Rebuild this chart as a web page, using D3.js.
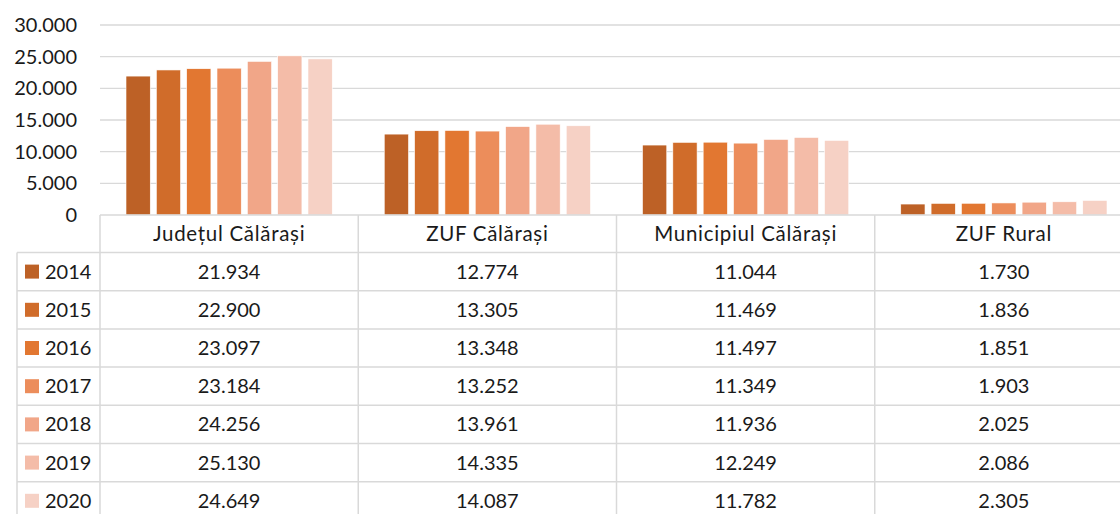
<!DOCTYPE html>
<html>
<head>
<meta charset="utf-8">
<script src="https://cdn.jsdelivr.net/npm/d3@7"></script>
<style>
  body { margin: 0; background: white; }
  svg { display: block; font-family: Lato, 'Open Sans', sans-serif; }
</style>
</head>
<body>
<svg id="chart" width="1120" height="514"></svg>
<script>
const categories = ['Județul Călărași', 'ZUF Călărași', 'Municipiul Călărași', 'ZUF Rural'],
    years = ['2014', '2015', '2016', '2017', '2018', '2019', '2020'],
    v2014 = [21934, 12774, 11044, 1730],
    v2015 = [22900, 13305, 11469, 1836],
    v2016 = [23097, 13348, 11497, 1851],
    v2017 = [23184, 13252, 11349, 1903],
    v2018 = [24256, 13961, 11936, 2025],
    v2019 = [25130, 14335, 12249, 2086],
    v2020 = [24649, 14087, 11782, 2305],
    yTicks = [0, 5000, 10000, 15000, 20000, 25000, 30000];

const seriesValues = [v2014, v2015, v2016, v2017, v2018, v2019, v2020],
    colors = ['#BD6126', '#D06C2A', '#E27731', '#EC8D5B', '#F1A688', '#F4BCA8', '#F6D1C5'],
    gridColor = '#D9D9D9',
    textColor = '#1a1a1a';

const svg = d3.select('#chart'),
    plot = { left: 100, right: 1133, top: 25, bottom: 215 },
    rowH = 38.2,
    headerH = 37.5,
    legendLeft = 17;

const fmt = d3.formatLocale({ decimal: ',', thousands: '.', grouping: [3], currency: ['', ''] }).format(',d');

const x = d3.scaleBand()
    .domain(categories)
    .range([plot.left, plot.right]);

const xInner = d3.scaleBand()
    .domain(years)
    .range([26, x.bandwidth() - 26])
    .paddingInner(0.2);

const y = d3.scaleLinear()
    .domain([0, 30000])
    .range([plot.bottom, plot.top]);

// gridlines
svg.append('g')
    .selectAll('line')
    .data(yTicks.filter(t => t > 0))
    .enter()
    .append('line')
    .attr('x1', plot.left)
    .attr('x2', 1120)
    .attr('y1', d => y(d))
    .attr('y2', d => y(d))
    .attr('stroke', gridColor)
    .attr('stroke-width', 1.3);

// y labels
svg.append('g')
    .selectAll('text')
    .data(yTicks)
    .enter()
    .append('text')
    .attr('x', 77)
    .attr('y', d => y(d))
    .attr('dy', '0.35em')
    .attr('text-anchor', 'end')
    .attr('font-size', 20)
    .attr('fill', textColor)
    .text(d => fmt(d));

// bars
const groups = svg.append('g')
    .selectAll('g')
    .data(years)
    .enter()
    .append('g')
    .attr('fill', (d, i) => colors[i]);

groups.selectAll('rect')
    .data((yr, i) => categories.map((c, j) => ({ cat: c, year: yr, value: seriesValues[i][j] })))
    .enter()
    .append('rect')
    .attr('x', d => x(d.cat) + xInner(d.year))
    .attr('width', xInner.bandwidth())
    .attr('y', d => y(d.value))
    .attr('height', d => y(0) - y(d.value))
    .attr('stroke', 'white')
    .attr('stroke-width', 0.6);

// data table
const table = svg.append('g'),
    tableTop = plot.bottom,
    firstRow = tableTop + headerH,
    tableBottom = firstRow + rowH * years.length;

function hLine(x1, x2, yy) {
    table.append('line')
        .attr('x1', x1).attr('x2', x2)
        .attr('y1', yy).attr('y2', yy)
        .attr('stroke', gridColor)
        .attr('stroke-width', 1.5);
}

function vLine(xx, y1, y2) {
    table.append('line')
        .attr('x1', xx).attr('x2', xx)
        .attr('y1', y1).attr('y2', y2)
        .attr('stroke', gridColor)
        .attr('stroke-width', 1.5);
}

hLine(plot.left, 1120, tableTop);
years.forEach((yr, i) => hLine(legendLeft, 1120, firstRow + rowH * i));
vLine(legendLeft, firstRow, tableBottom);
categories.forEach(c => vLine(x(c), tableTop, tableBottom));
vLine(plot.right, tableTop, tableBottom);

// header texts
table.selectAll('text.header')
    .data(categories)
    .enter()
    .append('text')
    .classed('header', true)
    .attr('x', d => x(d) + x.bandwidth() / 2)
    .attr('y', tableTop + headerH / 2)
    .attr('dy', '0.35em')
    .attr('text-anchor', 'middle')
    .attr('font-size', 20.5)
    .attr('letter-spacing', 0.7)
    .attr('fill', textColor)
    .text(d => d);

// rows
const rows = table.selectAll('g.row')
    .data(years)
    .enter()
    .append('g')
    .classed('row', true)
    .attr('transform', (d, i) => 'translate(0,' + (firstRow + rowH * i + rowH / 2) + ')');

rows.append('rect')
    .attr('x', 25)
    .attr('y', -7)
    .attr('width', 14)
    .attr('height', 14)
    .attr('fill', (d, i) => colors[i]);

rows.append('text')
    .attr('x', 45)
    .attr('dy', '0.35em')
    .attr('font-size', 20)
    .attr('fill', textColor)
    .text(d => d);

rows.selectAll('text.val')
    .data((yr, i) => categories.map((c, j) => ({ cat: c, value: seriesValues[i][j] })))
    .enter()
    .append('text')
    .classed('val', true)
    .attr('x', d => x(d.cat) + x.bandwidth() / 2)
    .attr('dy', '0.35em')
    .attr('text-anchor', 'middle')
    .attr('font-size', 20)
    .attr('fill', textColor)
    .text(d => fmt(d.value));
</script>
</body>
</html>
